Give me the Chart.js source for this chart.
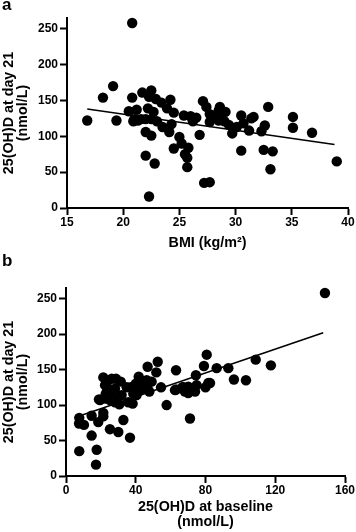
<!DOCTYPE html>
<html lang="en">
<head>
<meta charset="UTF-8">
<title>25(OH)D at day 21</title>
<script src="https://cdn.jsdelivr.net/npm/chart.js"></script>
<style>
  body { margin: 0; background: #fff; }
  #wrap { position: relative; width: 356px; height: 532px; }
  .box { position: absolute; left: 0; width: 356px; height: 266px; }
  .tag { position: absolute; left: 2px; font: bold 17px "Liberation Sans", Arial, sans-serif; line-height: 17px; }
</style>
</head>
<body>
<div id="wrap">
  <div class="box" style="top:0"><canvas id="chartA" width="356" height="266"></canvas></div>
  <div class="box" style="top:266px"><canvas id="chartB" width="356" height="266"></canvas></div>
  <div class="tag" style="top:-4px">a</div>
  <div class="tag" style="top:252px">b</div>
</div>
<script>
// panel a: BMI vs 25(OH)D at day 21
const bmi = [16.8, 18.2, 19.1, 19.4, 20.8, 20.8, 20.5, 21.2, 20.9, 21.0, 21.7, 22.5, 22.3, 22.2, 21.6, 22.0,
  22.5, 22.9, 22.7, 23.4, 23.9, 24.2, 24.5, 23.5, 24.1, 24.3, 22.0, 22.5, 24.5, 25.0, 25.2, 25.5, 25.7, 25.8,
  25.7, 22.0, 22.8, 22.3, 25.4, 26.1, 26.5, 26.2, 27.1, 27.4, 27.7, 27.7, 26.8, 27.2, 27.7, 27.9, 28.3, 28.6,
  28.8, 29.1, 28.5, 29.4, 29.7, 30.1, 30.5, 30.7, 31.4, 31.2, 31.6, 30.5, 32.9, 32.6, 32.3, 32.5, 33.3, 33.1,
  35.1, 35.1, 36.8, 39.0, 28.5, 29.0, 26.0, 23.0, 21.3];
const day21A = [122, 154, 170, 122, 258, 154, 135, 137, 121, 124, 161, 164, 155, 139, 124, 124,
  124, 152, 134, 147, 139, 151, 133, 113, 106, 117, 106, 101, 83, 99, 90, 75, 70, 84,
  57, 73, 62, 16, 129, 126, 126, 121, 149, 141, 131, 120, 102, 35, 36, 129, 129, 141,
  134, 134, 122, 116, 104, 113, 129, 118, 125, 108, 127, 80, 141, 115, 107, 81, 79, 54,
  127, 112, 105, 65, 136, 121, 128, 121, 122];
const fitAx = [16.8, 38.8];
const fitAy = [138, 88.5];

// panel b: baseline vs day 21
const baseline = [7.6, 7.5, 10.3, 14.7, 18.5, 14.7, 7.6, 17.6, 17.2, 21.4, 21.4, 19.5, 22.7, 21.4, 23.3, 26.2,
  28.1, 28.7, 31.4, 25.2, 28.1, 31.9, 30.6, 35.7, 38.2, 34.8, 37.1, 38.6, 32.9, 25.2, 30.0, 36.7, 41.7, 46.8,
  52.6, 51.8, 43.4, 46.3, 49.1, 42.4, 45.9, 47.8, 40.5, 54.5, 57.7, 63.1, 62.5, 68.2, 66.7, 70.1, 71.1, 74.0,
  74.5, 74.9, 79.1, 80.7, 80.0, 81.6, 86.4, 93.1, 82.6, 96.3, 103.2, 108.8, 117.5, 148.5, 22.4, 23.3, 18.9,
  22.4, 27.1, 40.0, 44.0, 47.0, 42.0, 63.1, 67.3, 70.1];
const day21B = [82, 74, 72, 85, 76, 57, 35, 37, 16, 89, 84, 107, 115, 139, 128, 137,
  123, 137, 133, 107, 104, 114, 101, 104, 102, 125, 125, 116, 79, 66, 62, 54, 140, 154,
  161, 146, 132, 135, 133, 121, 125, 119, 114, 125, 100, 149, 121, 119, 125, 126, 81, 119,
  142, 128, 155, 171, 125, 131, 152, 152, 131, 136, 135, 164, 156, 258, 128, 118, 108,
  109, 111, 130, 128, 122, 132, 122, 125, 117];
const fitBx = [6, 147.5];
const fitBy = [83, 202];

const yTicks = [0, 50, 100, 150, 200, 250];
const bmiTicks = [15, 20, 25, 30, 35, 40];
const baseTicks = [0, 40, 80, 120, 160];

const FONT = '"Liberation Sans", Arial, sans-serif';

function pts(xs, ys) {
  return xs.map((x, i) => ({ x: x, y: ys[i] }));
}

function makePanel(id, p) {
  new Chart(document.getElementById(id), {
    type: 'scatter',
    data: {
      datasets: [
        {
          data: pts(p.xs, p.ys),
          pointRadius: 5.2,
          pointBackgroundColor: '#000',
          pointBorderWidth: 0,
          clip: false
        },
        {
          type: 'line',
          data: pts(p.fx, p.fy),
          showLine: true,
          borderColor: '#000',
          borderWidth: 1.6,
          pointRadius: 0,
          fill: false
        }
      ]
    },
    options: {
      responsive: false,
      animation: false,
      events: [],
      layout: { padding: { left: 0, right: p.right, top: p.top, bottom: 0 } },
      plugins: { legend: { display: false }, tooltip: { enabled: false } },
      scales: {
        x: {
          type: 'linear',
          min: p.xTicks[0],
          max: p.xTicks[p.xTicks.length - 1],
          afterBuildTicks: s => { s.ticks = p.xTicks.map(v => ({ value: v })); },
          afterFit: s => { s.height = p.xh; },
          border: { display: true, color: '#000', width: 2 },
          grid: { drawOnChartArea: false, drawTicks: true, tickLength: 7, tickWidth: 2, tickColor: '#000' },
          ticks: { color: '#000', padding: 0, font: { family: FONT, size: 12, weight: 'bold' }, maxRotation: 0 },
          title: {
            display: true,
            text: p.xTitle,
            color: '#000',
            font: { family: FONT, size: 14.3, weight: 'bold', lineHeight: 1.0 },
            padding: { top: 0, bottom: p.xPad }
          }
        },
        y: {
          type: 'linear',
          min: 0,
          max: 265,
          afterBuildTicks: s => { s.ticks = yTicks.map(v => ({ value: v })); },
          afterFit: s => { s.width = p.yw; },
          border: { display: true, color: '#000', width: 2 },
          grid: { drawOnChartArea: false, drawTicks: true, tickLength: 7, tickWidth: 2, tickColor: '#000' },
          ticks: { color: '#000', padding: 2, font: { family: FONT, size: 12, weight: 'bold' } },
          title: {
            display: true,
            text: ['25(OH)D at day 21', '(nmol/L)'],
            color: '#000',
            font: { family: FONT, size: 14.3, weight: 'bold', lineHeight: 1.0 },
            padding: { top: 1.8, bottom: 0 }
          }
        }
      }
    }
  });
}

makePanel('chartA', {
  xs: bmi, ys: day21A, fx: fitAx, fy: fitAy, xTicks: bmiTicks,
  xTitle: 'BMI (kg/m²)', right: 8, top: 18, xh: 58, yw: 67, xPad: 16
});
makePanel('chartB', {
  xs: baseline, ys: day21B, fx: fitBx, fy: fitBy, xTicks: baseTicks,
  xTitle: ['25(OH)D at baseline', '(nmol/L)'], right: 11, top: 22, xh: 56, yw: 66, xPad: 3
});
</script>
</body>
</html>
